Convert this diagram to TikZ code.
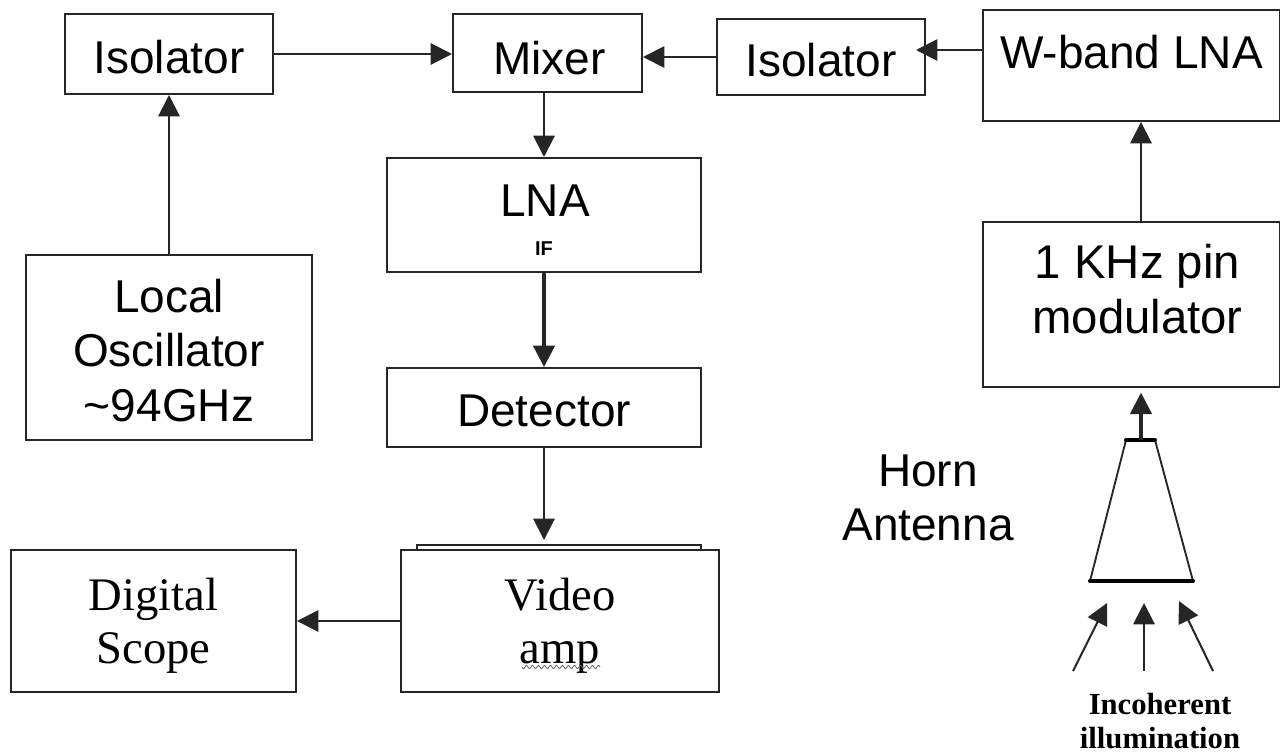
\documentclass[tikz,border=0pt]{standalone}
\usepackage{fontspec}
\setmainfont{Liberation Sans}
\newfontfamily\serifx{Liberation Serif}
\usetikzlibrary{arrows.meta}
\tikzset{
  x=0.75pt,y=-0.75pt,
  block/.style={draw=black!85,line width=1.5pt,fill=white,inner sep=0pt,align=center,font=\fontsize{34.5}{41}\selectfont},
  serifblock/.style={block,font=\serifx\fontsize{35}{40}\selectfont},
  conn/.style={draw=black!85,line width=1.5pt,-{Triangle[length=16pt,width=16pt]}},
  thick conn/.style={conn,line width=2.4pt},
  freetext/.style={inner sep=0pt,align=center,font=\fontsize{34.5}{40.5}\selectfont},
}
\newcommand{\blk}[7][block]{\node[#1,minimum width=#4*0.75pt,minimum height=#5*0.75pt] (#2) at ({#3+#4/2},{#6+#5/2}) {#7};}
% invisible struts that move a node's text down (\tdn) or up (\tup) inside its box
\newcommand{\tdn}[1]{\rule{0pt}{#1pt}}
\newcommand{\tup}[1]{\rule[-#1pt]{0pt}{#1pt}}
\begin{document}
\begin{tikzpicture}
\useasboundingbox[fill=white] (0,0) rectangle (1280,753);
% boxes: name, left, width, height, top
\blk{isoa}{65}{208}{80}{14}{\tdn{29.5}Isolator}
\blk{mixer}{453}{189}{78}{14}{\hspace*{3pt}\tdn{32.5}Mixer}
\blk{isob}{717}{208}{76}{19}{\tdn{29.5}Isolator}
\blk{wband}{983}{297}{111}{10}{W-band LNA\tup{20}}
\blk{lna}{387}{314}{114}{158}{}
\node[inner sep=0pt,font=\fontsize{34.5}{43}\selectfont] (lnatext) at (545,201) {LNA};
\node[inner sep=0pt,font=\bfseries\fontsize{15}{18}\selectfont] (iftext) at (544,249) {IF};
\blk[block,font=\fontsize{35.5}{41}\selectfont]{pin}{983}{297}{165}{222}{\hspace*{9pt}1 KHz pin\\\hspace*{9pt}modulator\tup{23}}
\blk{lo}{26}{286}{185}{255}{\tdn{29.5}Local\\Oscillator\\\textasciitilde 94GHz}
\blk{det}{387}{314}{79}{368}{\tdn{29.5}Detector}
\blk{back}{417}{284}{12}{545}{}
\blk[serifblock]{video}{401}{318}{142}{550}{\tdn{31}Video\\amp}
\blk[serifblock]{scope}{11}{285}{142}{550}{\tdn{31}Digital\\Scope}
% spell-check squiggle under amp
\draw[draw=black!60,line width=0.6pt] plot[domain=0:78,samples=79] ({522+\x},{667+1.6*sin(\x*60)});
% horn
\coordinate (hornTL) at (1126,440);
\coordinate (hornTR) at (1155,440);
\coordinate (hornBL) at (1090,581);
\coordinate (hornBR) at (1193,581);
\draw[line width=1.4pt,draw=black!85] (hornTL) -- (hornBL);
\draw[line width=1.4pt,draw=black!85] (hornTR) -- (hornBR);
\draw[line width=3pt,line cap=round] (hornTL) -- (hornTR);
\draw[line width=3pt,line cap=round] (hornBL) -- (hornBR);
\coordinate (hornTop) at (1141,440);
% connectors
\draw[conn] (isoa.east) -- (isoa.east -| mixer.west);
\draw[conn] (isob.west) -- (isob.west -| mixer.east);
\draw[conn,shorten >=-7.5pt] (wband.west |- 0,50) -- (isob.east |- 0,50);
\draw[conn] (lo.north -| 169,0) -- (isoa.south -| 169,0);
\draw[conn] (mixer.south -| 544,0) -- (lna.north -| 544,0);
\draw[thick conn] (lna.south -| 544,0) -- (det.north -| 544,0);
\draw[conn,shorten >=3pt] (det.south -| 544,0) -- (back.north -| 544,0);
\draw[conn] (video.west) -- (scope.east);
\draw[conn] (pin.north -| 1141,0) -- (wband.south -| 1141,0);
\draw[thick conn,shorten >=3.5pt] (hornTop) -- (pin.south -| 1141,0);
% illumination arrows
\coordinate (ia1) at (1073,671);
\coordinate (ib1) at (1107,603);
\coordinate (ia2) at (1144,671);
\coordinate (ib2) at (1144,603);
\coordinate (ia3) at (1213,671);
\coordinate (ib3) at (1179,601);
\draw[conn] (ia1) -- (ib1);
\draw[conn] (ia2) -- (ib2);
\draw[conn] (ia3) -- (ib3);
% labels
\node[freetext] (horn) at (928,498) {Horn\\Antenna};
\node[inner sep=0pt,align=center,font=\serifx\bfseries\fontsize{23}{25.5}\selectfont] (inc) at (1160,721) {Incoherent\\illumination};
\end{tikzpicture}
\end{document}
